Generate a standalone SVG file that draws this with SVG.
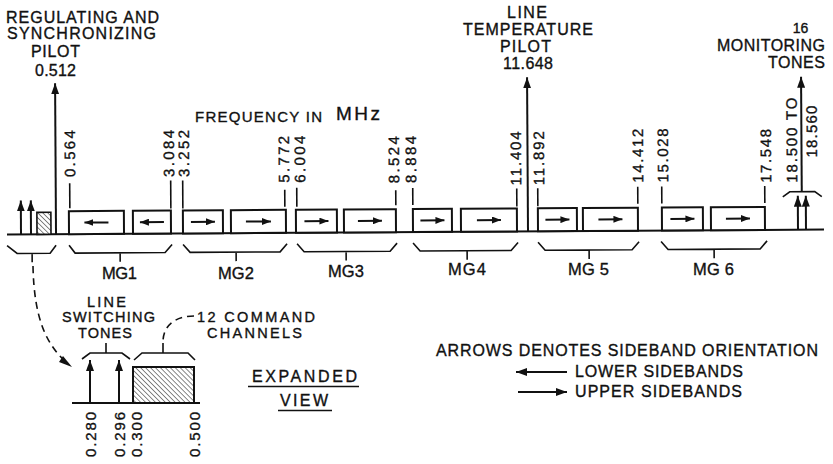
<svg xmlns="http://www.w3.org/2000/svg" width="833" height="464" viewBox="0 0 833 464">
<style>
.ln{stroke:#111;stroke-width:2;fill:none}
.tk{stroke:#111;stroke-width:1.6;fill:none}
.bx{fill:#fff;stroke:#111;stroke-width:2}
.t{font-family:"Liberation Sans",Arial,sans-serif;font-size:16px;fill:#111;stroke:#111;stroke-width:0.35}
.r{font-size:15px}
.s{font-size:14.5px}
.ds{stroke:#111;stroke-width:1.6;fill:none;stroke-dasharray:7 5}
.ar{stroke:#111;stroke-width:2;fill:none;marker-end:url(#sa)}
.va{stroke:#111;stroke-width:2;fill:none;marker-end:url(#ah)}
</style>
<defs>
<marker id="ah" markerUnits="userSpaceOnUse" markerWidth="12" markerHeight="8" refX="11" refY="4" orient="auto"><path d="M0,0 L11,4 L0,8 z" fill="#111"/></marker>
<marker id="sa" markerUnits="userSpaceOnUse" markerWidth="10" markerHeight="7" refX="9" refY="3.5" orient="auto"><path d="M0,0 L9,3.5 L0,7 z" fill="#111"/></marker>
<pattern id="hatch" patternUnits="userSpaceOnUse" width="3.5" height="3.5" patternTransform="rotate(-45)"><rect width="3.5" height="3.5" fill="#fff"/><line x1="0" y1="0" x2="0" y2="3.5" stroke="#555" stroke-width="1.4"/></pattern>
</defs>
<rect width="833" height="464" fill="#fff"/>

<!-- upper spectrum (slightly tilted like the scan) -->
<g id="spectrum" transform="rotate(-0.35 420 232)">
  <line id="baseline" class="ln" x1="7" y1="232" x2="824" y2="232"/>

  <g id="low-band">
    <line class="va" x1="21" y1="232" x2="21" y2="198"/>
    <line class="va" x1="31" y1="232" x2="31" y2="198"/>
    <rect x="37" y="210" width="14" height="22" fill="url(#hatch)" stroke="#111" stroke-width="1.6"/>
    <path class="tk" d="M7,243 L17,251 L50,251 L56,243 M32,251 L32,260"/>
  </g>

  <g id="reg-pilot-arrow">
    <line class="va" x1="56" y1="232" x2="56" y2="81"/>
  </g>
  <g id="temp-pilot-arrow">
    <line class="va" x1="528" y1="232" x2="528" y2="78"/>
  </g>

  <g id="mg1">
    <rect class="bx" x="69" y="209" width="55" height="23"/>
    <line class="ar" x1="108.5" y1="220.5" x2="84.5" y2="220.5"/>
    <rect class="bx" x="133" y="209" width="38" height="23"/>
    <line class="ar" x1="164" y1="220.5" x2="140" y2="220.5"/>
    <path class="tk" d="M69,243 L75,251 L165,251 L172,243 M120,251 L120,260"/>
  </g>
  <g id="mg2">
    <rect class="bx" x="183" y="209" width="40" height="23"/>
    <line class="ar" x1="191" y1="220.5" x2="215" y2="220.5"/>
    <rect class="bx" x="231" y="209" width="55" height="23"/>
    <line class="ar" x1="246" y1="220.5" x2="271" y2="220.5"/>
    <path class="tk" d="M183,243 L190,251 L280,251 L287,243 M236,251 L236,260"/>
  </g>
  <g id="mg3">
    <rect class="bx" x="296" y="209" width="41" height="23"/>
    <line class="ar" x1="304.5" y1="220.5" x2="328.5" y2="220.5"/>
    <rect class="bx" x="344" y="209" width="52" height="23"/>
    <line class="ar" x1="358" y1="220.5" x2="382" y2="220.5"/>
    <path class="tk" d="M297,243 L304,251 L390,251 L397,243 M346,251 L346,260"/>
  </g>
  <g id="mg4">
    <rect class="bx" x="413" y="209" width="39" height="23"/>
    <line class="ar" x1="420.5" y1="220.5" x2="444.5" y2="220.5"/>
    <rect class="bx" x="461" y="209" width="56" height="23"/>
    <line class="ar" x1="477" y1="220.5" x2="501" y2="220.5"/>
    <path class="tk" d="M413,243 L420,251 L511,251 L518,243 M467,251 L467,260"/>
  </g>
  <g id="mg5">
    <rect class="bx" x="538" y="209" width="39" height="23"/>
    <line class="ar" x1="545.5" y1="220.5" x2="569.5" y2="220.5"/>
    <rect class="bx" x="583" y="209" width="55" height="23"/>
    <line class="ar" x1="598.5" y1="220.5" x2="622.5" y2="220.5"/>
    <path class="tk" d="M538,243 L545,251 L632,251 L639,243 M589,251 L589,260"/>
  </g>
  <g id="mg6">
    <rect class="bx" x="662" y="209" width="41" height="23"/>
    <line class="ar" x1="670.5" y1="220.5" x2="694.5" y2="220.5"/>
    <rect class="bx" x="711" y="209" width="54" height="23"/>
    <line class="ar" x1="726" y1="220.5" x2="750" y2="220.5"/>
    <path class="tk" d="M661,243 L668,251 L760,251 L767,243 M714,251 L714,260"/>
  </g>

  <g id="monitoring-tones">
    <line class="va" x1="798" y1="232" x2="798" y2="198"/>
    <line class="va" x1="806" y1="232" x2="806" y2="198"/>
    <path class="tk" d="M783,199 L790,194 L815,194 L822,199"/>
    <line class="va" x1="802" y1="194" x2="802" y2="79"/>
  </g>

  <g id="ticks" class="tk">
    <line x1="70" y1="181" x2="70" y2="206"/>
    <line x1="171" y1="179" x2="171" y2="207"/>
    <line x1="183" y1="179" x2="183" y2="207"/>
    <line x1="285" y1="189" x2="285" y2="206"/>
    <line x1="297" y1="187" x2="297" y2="206"/>
    <line x1="396" y1="190" x2="396" y2="205"/>
    <line x1="413" y1="188" x2="413" y2="205"/>
    <line x1="517" y1="189" x2="517" y2="207"/>
    <line x1="538" y1="189" x2="538" y2="207"/>
    <line x1="638" y1="188" x2="638" y2="205"/>
    <line x1="662" y1="188" x2="662" y2="205"/>
    <line x1="765" y1="188" x2="765" y2="205"/>
  </g>

  <g id="freq-labels" class="t r">
    <text transform="translate(75.5,175) rotate(-90)" textLength="47" lengthAdjust="spacing">0.564</text>
    <text transform="translate(174.5,175.5) rotate(-90)" textLength="47" lengthAdjust="spacing">3.084</text>
    <text transform="translate(189.5,175.5) rotate(-90)" textLength="47" lengthAdjust="spacing">3.252</text>
    <text transform="translate(289.5,182) rotate(-90)" textLength="47" lengthAdjust="spacing">5.772</text>
    <text transform="translate(305.5,182) rotate(-90)" textLength="47" lengthAdjust="spacing">6.004</text>
    <text transform="translate(399.5,183) rotate(-90)" textLength="47" lengthAdjust="spacing">8.524</text>
    <text transform="translate(416.5,183) rotate(-90)" textLength="47" lengthAdjust="spacing">8.884</text>
    <text transform="translate(521.5,186) rotate(-90)" textLength="54" lengthAdjust="spacing">11.404</text>
    <text transform="translate(544.5,186) rotate(-90)" textLength="54" lengthAdjust="spacing">11.892</text>
    <text transform="translate(643.5,184) rotate(-90)" textLength="54" lengthAdjust="spacing">14.412</text>
    <text transform="translate(668.5,184) rotate(-90)" textLength="54" lengthAdjust="spacing">15.028</text>
    <text transform="translate(771.5,185) rotate(-90)" textLength="54" lengthAdjust="spacing">17.548</text>
    <text transform="translate(797.5,185) rotate(-90)" textLength="85" lengthAdjust="spacing">18.500 TO</text>
    <text transform="translate(817.5,160) rotate(-90)" textLength="52" lengthAdjust="spacing">18.560</text>
  </g>
</g>

<g id="reg-pilot-label" class="t">
  <text x="6" y="23" textLength="153" lengthAdjust="spacing">REGULATING AND</text>
  <text x="7" y="39" textLength="149" lengthAdjust="spacing">SYNCHRONIZING</text>
  <text x="31" y="57" textLength="49" lengthAdjust="spacing">PILOT</text>
  <text x="35" y="76" textLength="41" lengthAdjust="spacing">0.512</text>
</g>
<g id="temp-pilot-label" class="t">
  <text x="507" y="18" textLength="40" lengthAdjust="spacing">LINE</text>
  <text x="463" y="35" textLength="130" lengthAdjust="spacing">TEMPERATURE</text>
  <text x="500" y="52" textLength="51" lengthAdjust="spacing">PILOT</text>
  <text x="503" y="69" textLength="50" lengthAdjust="spacing">11.648</text>
</g>
<g id="monitor-label" class="t">
  <text x="800.5" y="32.5" text-anchor="middle" style="font-size:14px">16</text>
  <text x="717" y="51" textLength="108" lengthAdjust="spacing">MONITORING</text>
  <text x="768" y="68" textLength="57" lengthAdjust="spacing">TONES</text>
</g>
<g id="axis-title" class="t">
  <text x="195" y="122" style="font-size:15px" textLength="127" lengthAdjust="spacing">FREQUENCY IN</text>
  <text x="336" y="119.5" style="font-size:19px" textLength="44" lengthAdjust="spacing">MHz</text>
</g>

<g id="mg-labels" class="t" style="font-size:16.5px">
  <text x="102" y="279" textLength="35" lengthAdjust="spacing">MG1</text>
  <text x="218" y="279" textLength="36" lengthAdjust="spacing">MG2</text>
  <text x="328" y="277" textLength="36" lengthAdjust="spacing">MG3</text>
  <text x="448" y="275" textLength="38" lengthAdjust="spacing">MG4</text>
  <text x="568" y="275" textLength="41" lengthAdjust="spacing">MG 5</text>
  <text x="693" y="275" textLength="41" lengthAdjust="spacing">MG 6</text>
</g>

<!-- expanded view -->
<g id="expanded-view">
  <line class="ln" x1="72" y1="403" x2="200" y2="403"/>
  <line class="va" x1="90" y1="403" x2="90" y2="360"/>
  <line class="va" x1="119" y1="403" x2="119" y2="360"/>
  <rect x="133" y="367" width="61" height="36" fill="url(#hatch)" stroke="#111" stroke-width="2"/>
  <path class="tk" d="M82,359 L90,353 L122,353 L130,359 M106,353 L106,343"/>
  <path class="tk" d="M134,360 L142,353 L188,353 L195,360 M163,353 L163,343"/>
  <g class="t r">
    <text transform="translate(96,457) rotate(-90)" textLength="45" lengthAdjust="spacing">0.280</text>
    <text transform="translate(124.5,457) rotate(-90)" textLength="45" lengthAdjust="spacing">0.296</text>
    <text transform="translate(142,457) rotate(-90)" textLength="45" lengthAdjust="spacing">0.300</text>
    <text transform="translate(200,457) rotate(-90)" textLength="45" lengthAdjust="spacing">0.500</text>
  </g>
</g>
<g id="switching-label" class="t s">
  <text x="87" y="306.5" textLength="39" lengthAdjust="spacing">LINE</text>
  <text x="62" y="322" textLength="93" lengthAdjust="spacing">SWITCHING</text>
  <text x="78" y="338" textLength="54" lengthAdjust="spacing">TONES</text>
</g>
<g id="command-label" class="t s">
  <text x="197" y="321.5" textLength="118" lengthAdjust="spacing">12 COMMAND</text>
  <text x="207" y="337.5" textLength="95" lengthAdjust="spacing">CHANNELS</text>
</g>
<g id="expanded-title" class="t">
  <text x="252" y="382" textLength="105" lengthAdjust="spacing">EXPANDED</text>
  <line class="tk" x1="248" y1="386.5" x2="359" y2="386.5"/>
  <text x="280" y="406" textLength="48" lengthAdjust="spacing">VIEW</text>
  <line class="tk" x1="278" y1="410.5" x2="332" y2="410.5"/>
</g>

<g id="legend">
  <text class="t" x="436" y="356" textLength="382" lengthAdjust="spacing">ARROWS DENOTES SIDEBAND ORIENTATION</text>
  <line class="va" x1="567" y1="372" x2="516" y2="372"/>
  <text class="t" x="575" y="377" textLength="168" lengthAdjust="spacing">LOWER SIDEBANDS</text>
  <line class="va" x1="518" y1="392" x2="567" y2="392"/>
  <text class="t" x="575" y="397" textLength="167" lengthAdjust="spacing">UPPER SIDEBANDS</text>
</g>

<g id="connectors">
  <path class="ds" d="M33,266 C34,318 46,344 66,362"/>
  <path d="M63,356 L72,367 L59,362 z" fill="#111"/>
  <path class="ds" d="M194,316 C176,316 163,325 163,342"/>
</g>
</svg>
